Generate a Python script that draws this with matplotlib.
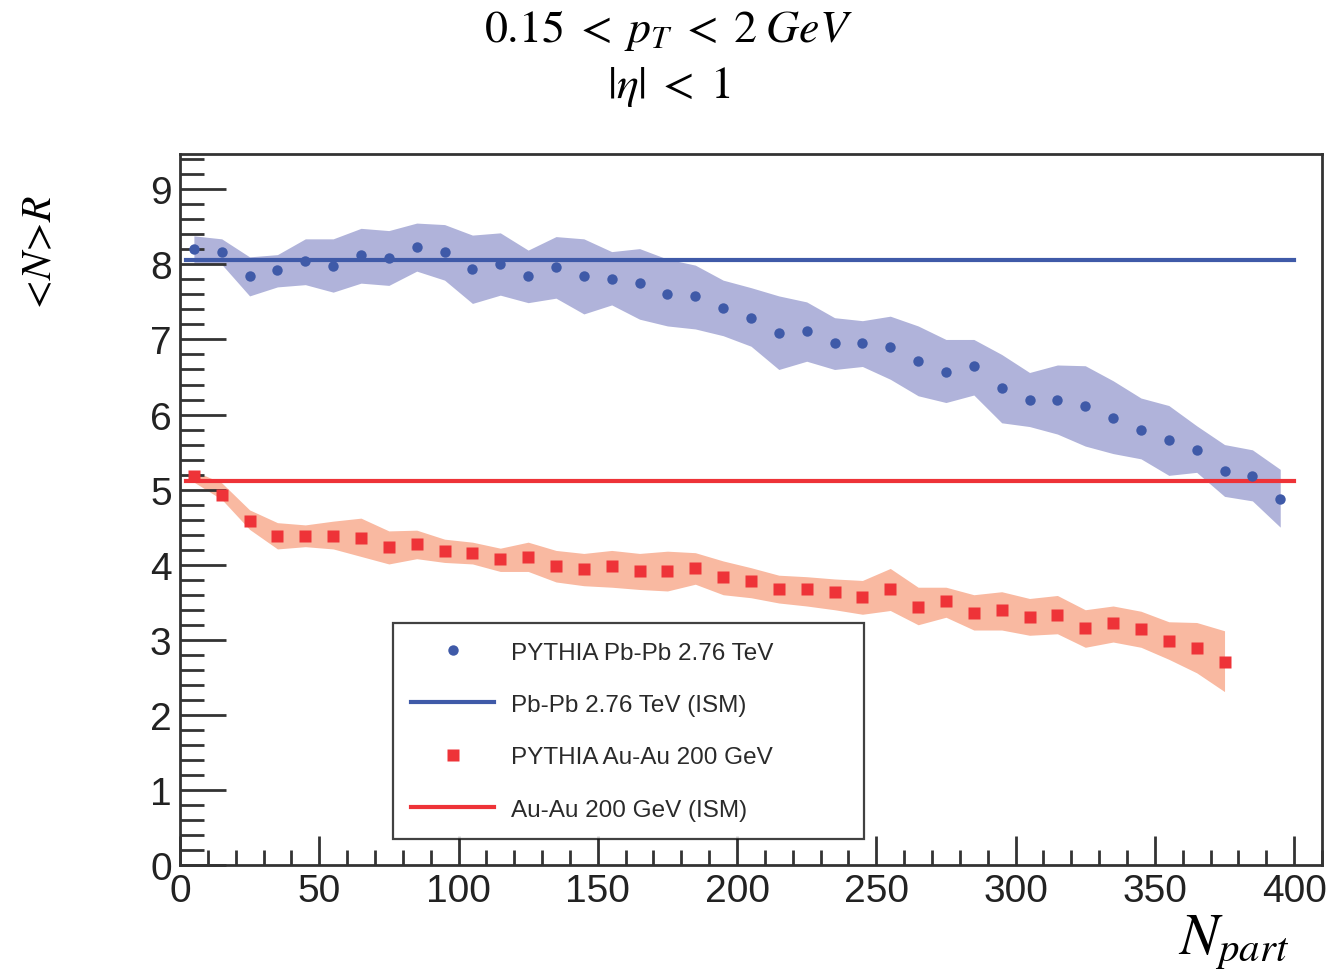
import numpy as np
import matplotlib
matplotlib.use("Agg")
import matplotlib.pyplot as plt
from matplotlib.ticker import MultipleLocator

# ---------------- data ----------------
x_pb = np.arange(5, 400, 10)
pb_mean = [8.20, 8.17, 7.84, 7.92, 8.04, 7.98, 8.12, 8.09, 8.23, 8.16,
           7.94, 8.01, 7.84, 7.96, 7.84, 7.81, 7.75, 7.61, 7.58, 7.42,
           7.29, 7.09, 7.11, 6.95, 6.95, 6.90, 6.71, 6.57, 6.64, 6.35,
           6.20, 6.20, 6.12, 5.95, 5.80, 5.66, 5.53, 5.25, 5.18, 4.87]
pb_upper = [8.38, 8.34, 8.10, 8.13, 8.34, 8.34, 8.48, 8.45, 8.55, 8.53,
            8.39, 8.42, 8.19, 8.37, 8.34, 8.17, 8.21, 8.07, 7.99, 7.79,
            7.69, 7.58, 7.50, 7.29, 7.25, 7.31, 7.18, 7.00, 7.00, 6.80,
            6.56, 6.66, 6.65, 6.45, 6.22, 6.12, 5.85, 5.60, 5.53, 5.27]
pb_lower = [8.02, 8.00, 7.58, 7.70, 7.73, 7.63, 7.75, 7.72, 7.91, 7.79,
            7.48, 7.59, 7.49, 7.55, 7.34, 7.46, 7.27, 7.18, 7.14, 7.05,
            6.91, 6.60, 6.71, 6.60, 6.64, 6.47, 6.25, 6.16, 6.26, 5.89,
            5.84, 5.74, 5.58, 5.48, 5.41, 5.19, 5.23, 4.91, 4.85, 4.50]

x_au = np.arange(5, 380, 10)
au_mean = [5.18, 4.93, 4.58, 4.38, 4.38, 4.38, 4.35, 4.23, 4.27, 4.18,
           4.15, 4.07, 4.10, 3.98, 3.94, 3.98, 3.92, 3.92, 3.95, 3.83,
           3.78, 3.67, 3.68, 3.64, 3.57, 3.67, 3.44, 3.51, 3.36, 3.39,
           3.31, 3.33, 3.16, 3.22, 3.14, 2.99, 2.89, 2.71]
au_upper = [5.25, 5.09, 4.73, 4.56, 4.53, 4.58, 4.62, 4.45, 4.46, 4.34,
            4.30, 4.22, 4.30, 4.19, 4.15, 4.19, 4.15, 4.18, 4.16, 4.05,
            3.96, 3.86, 3.84, 3.81, 3.79, 3.95, 3.70, 3.70, 3.60, 3.64,
            3.55, 3.59, 3.40, 3.45, 3.38, 3.24, 3.23, 3.12]
au_lower = [5.10, 4.87, 4.47, 4.21, 4.24, 4.21, 4.11, 4.01, 4.08, 4.03,
            4.01, 3.91, 3.91, 3.77, 3.72, 3.70, 3.67, 3.65, 3.74, 3.60,
            3.56, 3.49, 3.45, 3.40, 3.34, 3.39, 3.20, 3.30, 3.13, 3.13,
            3.06, 3.08, 2.90, 2.97, 2.90, 2.74, 2.56, 2.31]

ism_x = [2, 400]
ism_pb = 8.06
ism_au = 5.12

labels = ["PYTHIA Pb-Pb 2.76 TeV", "Pb-Pb 2.76 TeV (ISM)",
          "PYTHIA Au-Au 200 GeV", "Au-Au 200 GeV (ISM)"]

# ---------------- style ----------------
plt.rcParams['mathtext.fontset'] = 'stix'
plt.rcParams['font.family'] = ['Liberation Sans', 'DejaVu Sans']

blue = '#3f5aa8'
blue_band = '#b0b3da'
red = '#ee3338'
red_band = '#f9b9a1'

fig = plt.figure(figsize=(13.37, 9.78), dpi=100)
ax = fig.add_axes([0.1346, 0.1145, 0.8542, 0.727])

ax.fill_between(x_pb, pb_lower, pb_upper, color=blue_band, lw=0, zorder=1)
ax.fill_between(x_au, au_lower, au_upper, color=red_band, lw=0, zorder=1)

l2, = ax.plot(ism_x, [ism_pb, ism_pb], color=blue, lw=3, zorder=2)
l4, = ax.plot(ism_x, [ism_au, ism_au], color=red, lw=3, zorder=2)
l1, = ax.plot(x_pb, pb_mean, 'o', color=blue, ms=7.5, mec='none', zorder=3)
l3, = ax.plot(x_au, au_mean, 's', color=red, ms=8.5, mec='none', zorder=3)

ax.set_xlim(0, 410)
ax.set_ylim(0, 9.47)
ax.xaxis.set_major_locator(MultipleLocator(50))
ax.xaxis.set_minor_locator(MultipleLocator(10))
ax.yaxis.set_major_locator(MultipleLocator(1))
ax.yaxis.set_minor_locator(MultipleLocator(0.2))
ax.tick_params(which='both', direction='in', top=False, right=False,
               colors='#333333', width=2)
ax.tick_params(which='major', labelsize=28, labelcolor='#222222')
ax.tick_params(axis='y', which='major', length=33, pad=6)
ax.tick_params(axis='y', which='minor', length=17)
ax.tick_params(axis='x', which='major', length=21, pad=6)
ax.tick_params(axis='x', which='minor', length=11)
for s in ax.spines.values():
    s.set_linewidth(2)
    s.set_color('#333333')

leg = ax.legend([l1, l2, l3, l4], labels, loc='lower left',
                bbox_to_anchor=(0.1865, 0.0366, 0.4125, 0.301), mode='expand',
                frameon=True, fancybox=False, edgecolor='#111111',
                fontsize=17.5, labelspacing=1.25, handlelength=3.4,
                handletextpad=0.7, borderpad=0.75, borderaxespad=0)
leg.get_frame().set_linewidth(1.6)
for t in leg.get_texts():
    t.set_color('#2a2a2a')

fig.text(0.5, 0.969, r'$0.15\;<\;p_T\;<\;2\;GeV$', ha='center', va='center',
         fontsize=33)
fig.text(0.5, 0.911, r'$|\eta|\;<\;1$', ha='center', va='center', fontsize=33)
fig.text(0.03, 0.739, r'$<\!N\!>\!R$', rotation=90, ha='center', va='center',
         fontsize=30)
fig.text(0.964, 0.024, r'$N_{part}$', ha='right', va='baseline', fontsize=42)

fig.savefig('out.png', dpi=100)
